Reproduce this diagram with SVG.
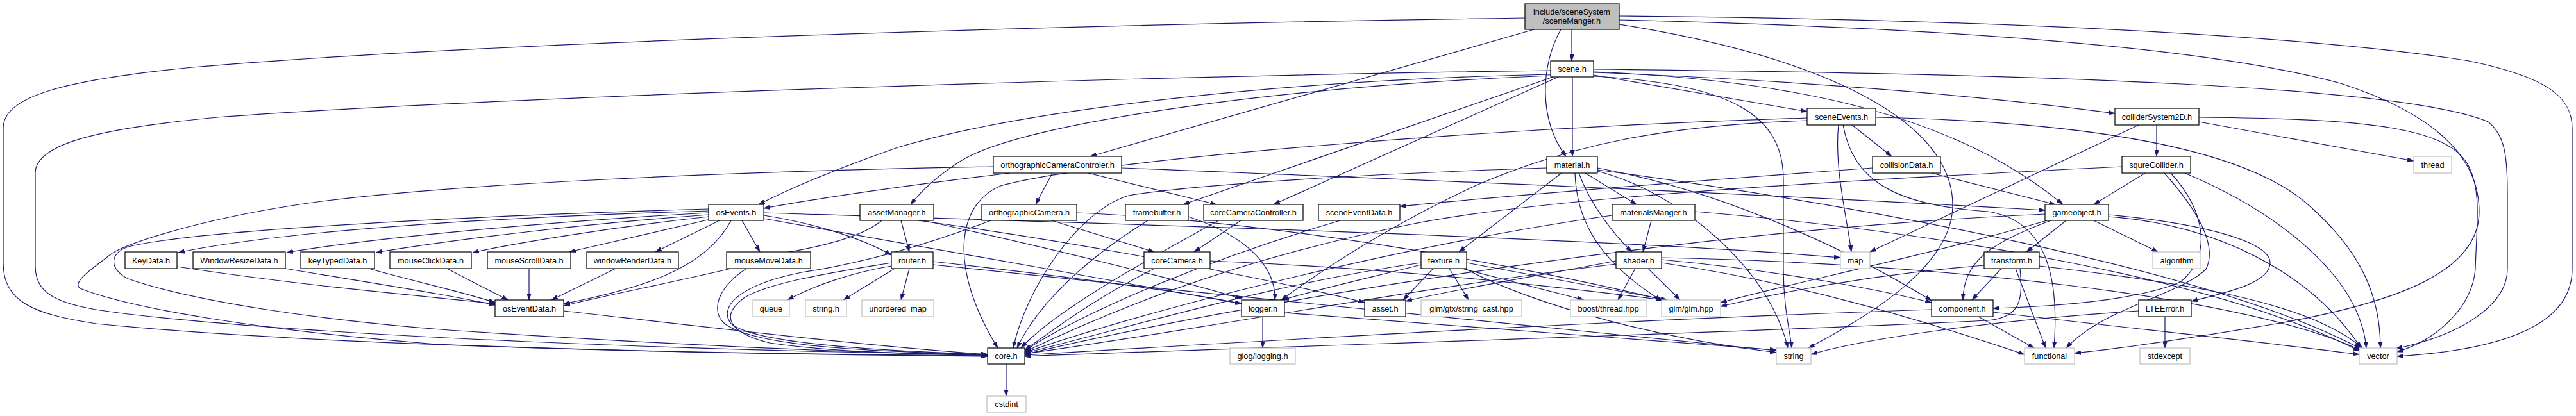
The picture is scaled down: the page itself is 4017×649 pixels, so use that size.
<svg xmlns="http://www.w3.org/2000/svg" width="4017" height="649" viewBox="0 0 4017 649">
<style>
.n rect{fill:#fff;stroke:#000;stroke-width:1.2}
.s rect{fill:#fff;stroke:#bfbfbf;stroke-width:1.2}
.r rect{fill:#bfbfbf;stroke:#000;stroke-width:1.2}
text{font-family:"Liberation Sans",Arial,sans-serif;font-size:12.7px;text-anchor:middle;fill:#000}
#edges path{fill:none;stroke:#191970;stroke-width:1.2;marker-end:url(#a)}
</style>
<defs>
<marker id="a" markerUnits="userSpaceOnUse" viewBox="0 0 10 7" markerWidth="10" markerHeight="7" refX="10" refY="3.5" orient="auto">
<path d="M0,0 L10,3.5 L0,7 z" fill="#191970" stroke="#191970" stroke-width="0.5"/>
</marker>
</defs>
<rect width="4017" height="649" fill="#fff"/>
<g id="edges">
<path d="M2451,46 L2451,95"/>
<path d="M2434,46 C2403,100 2398,185 2442,244"/>
<path d="M2392,46 L1700,244"/>
<path d="M2378,28 C1800,36 800,62 300,105 C100,125 5,150 5,200 L5,410 C5,470 50,490 150,505 C500,540 1100,552 1540,556"/>
<path d="M2525,38 C2850,90 3045,190 3045,320 C3045,420 2900,500 2820,543"/>
<path d="M2525,25 C3100,30 3600,55 3850,95 C3970,120 4011,150 4011,200 L4011,420 C4011,500 3920,545 3738,556"/>
<path d="M2525,31 C2900,40 3400,62 3650,130 C3820,185 3866,260 3866,330 C3866,420 3750,470 3550,505 C3400,530 3300,545 3235,551"/>
<path d="M2452,120 L2452,244"/>
<path d="M2418,110 C1800,118 800,150 350,182 C150,200 55,225 55,270 L55,415 C55,465 100,478 200,490 C500,525 1100,548 1540,553"/>
<path d="M2418,116 C2000,125 1600,170 1400,230 C1300,265 1230,295 1183,319"/>
<path d="M2418,118 C2000,135 1600,190 1500,250 C1460,275 1435,300 1420,319"/>
<path d="M2422,120 L1845,319"/>
<path d="M2430,120 L1986,319"/>
<path d="M2485,117 L2818,174"/>
<path d="M2485,113 C2800,125 3100,150 3298,177"/>
<path d="M2485,112 C2800,125 3050,180 3217,319"/>
<path d="M2485,119 C2700,130 2781,180 2781,280 L2781,420 C2781,480 2792,520 2794,543"/>
<path d="M2485,108 C3200,115 3750,135 3880,190 C3905,210 3910,240 3910,300 L3910,420 C3910,470 3850,520 3736,544"/>
<path d="M1549,260 C1100,268 650,290 460,320 C300,345 200,380 175,395 C150,415 110,440 125,450 C200,480 400,515 680,537 C1000,550 1300,553 1540,555"/>
<path d="M1575,270 C1450,285 1300,305 1191,325"/>
<path d="M1641,270 L1615,319"/>
<path d="M1697,270 L1897,319"/>
<path d="M1749,262 C2200,280 2700,300 3189,328"/>
<path d="M2412,262 C2100,272 1850,290 1760,305 C1680,330 1600,450 1580,543"/>
<path d="M2435,270 L2275,393"/>
<path d="M2456,270 C2458,330 2480,400 2591,469"/>
<path d="M2462,270 C2480,320 2520,370 2545,393"/>
<path d="M2472,270 L2552,319"/>
<path d="M2491,262 C2700,300 2900,400 3012,469"/>
<path d="M2491,267 C2620,300 2760,420 2788,543"/>
<path d="M2491,265 C2900,320 3450,420 3681,544"/>
<path d="M2867,195 C2860,260 2880,340 2887,393"/>
<path d="M2888,195 L2950,244"/>
<path d="M2874,195 C2890,280 2950,320 3100,330 C3200,345 3210,450 3203,543"/>
<path d="M2925,183 C3250,190 3500,230 3600,320 C3680,390 3712,460 3712,543"/>
<path d="M2818,184 C2300,200 1700,250 1560,290 C1490,320 1480,420 1556,543"/>
<path d="M2818,188 C2600,195 2450,225 2300,290 C2150,360 2050,430 1998,468"/>
<path d="M3012,270 L3205,319"/>
<path d="M2920,262 C2600,285 2300,310 2183,322"/>
<path d="M3363,195 L3363,244"/>
<path d="M3429,190 L3764,251"/>
<path d="M3429,183 C3700,185 3820,200 3850,260 C3870,300 3862,350 3860,420 C3855,480 3800,530 3738,549"/>
<path d="M3335,195 L2916,393"/>
<path d="M3345,270 L3265,319"/>
<path d="M3309,260 C2800,285 2400,310 2200,350 C1900,410 1700,500 1598,549"/>
<path d="M3375,270 C3420,320 3460,380 3440,420 C3400,460 3280,480 3222,543"/>
<path d="M3407,270 C3550,330 3680,430 3690,543"/>
<path d="M3385,270 C3440,330 3450,400 3400,440 C3330,470 3200,478 3108,481"/>
<path d="M3222,344 L3160,393"/>
<path d="M3198,344 C3100,380 3062,410 3061,468"/>
<path d="M3192,344 C3000,400 2800,440 2683,472"/>
<path d="M3265,344 L3365,393"/>
<path d="M3288,335 C3450,350 3540,380 3540,410 C3540,440 3480,455 3417,470"/>
<path d="M3288,338 C3450,350 3600,420 3682,543"/>
<path d="M3189,334 C2600,360 1900,480 1598,553"/>
<path d="M3121,419 L3075,468"/>
<path d="M3143,419 L3190,543"/>
<path d="M3094,414 C2900,430 2760,460 2683,478"/>
<path d="M3180,415 C3400,440 3600,470 3684,543"/>
<path d="M3150,419 C3155,470 3150,495 3100,500 C2700,520 2000,540 1598,556"/>
<path d="M3085,494 L3172,543"/>
<path d="M3012,483 C2500,500 2000,530 1598,554"/>
<path d="M3108,487 C3300,510 3500,530 3679,553"/>
<path d="M3376,494 L3376,543"/>
<path d="M3335,485 C3100,500 2900,530 2824,553"/>
<path d="M2550,419 L2523,468"/>
<path d="M2570,419 L2620,468"/>
<path d="M2520,407 C2400,430 2250,455 2192,470"/>
<path d="M2520,412 C2200,450 1900,510 1598,552"/>
<path d="M2591,405 C2750,420 2900,445 3012,472"/>
<path d="M2591,410 C2800,440 3000,500 3157,553"/>
<path d="M2591,402 C3000,410 3500,460 3680,546"/>
<path d="M2235,419 L2188,468"/>
<path d="M2260,419 L2290,468"/>
<path d="M2280,419 L2470,468"/>
<path d="M2287,410 L2600,468"/>
<path d="M2216,413 C2150,430 2060,450 2000,468"/>
<path d="M2216,410 C2000,440 1800,500 1598,551"/>
<path d="M2284,419 C2400,480 2600,530 2770,550"/>
<path d="M2575,344 L2562,393"/>
<path d="M2514,336 C2200,380 1800,480 1598,550"/>
<path d="M2643,330 C3000,360 3450,430 3680,548"/>
<path d="M2090,344 C1900,400 1700,480 1598,547"/>
<path d="M1935,344 L1862,393"/>
<path d="M1900,344 C1800,400 1650,480 1592,543"/>
<path d="M1800,419 C1700,470 1650,510 1598,546"/>
<path d="M1887,407 C2200,420 2450,450 2593,468"/>
<path d="M1790,344 C1700,400 1620,470 1586,543"/>
<path d="M1853,338 C1950,370 1990,420 1988,468"/>
<path d="M1640,344 L1800,393"/>
<path d="M1545,344 C1450,380 1350,410 1250,425 C1150,445 1120,480 1140,505 C1170,530 1300,545 1540,553"/>
<path d="M1679,332 C2000,345 2400,420 2594,468"/>
<path d="M1405,344 L1418,393"/>
<path d="M1432,344 C1700,380 2000,440 2128,472"/>
<path d="M1440,344 C1650,390 1850,440 1936,466"/>
<path d="M1375,344 C1345,370 1280,385 1220,395 C1130,420 1100,480 1130,505 C1170,535 1300,548 1540,553"/>
<path d="M1390,415 C1330,425 1270,445 1228,468"/>
<path d="M1395,419 L1315,468"/>
<path d="M1418,419 L1405,468"/>
<path d="M1455,408 C1650,430 1850,455 1936,474"/>
<path d="M1390,410 C1300,425 1200,440 1160,465 C1120,495 1140,520 1200,535 C1300,550 1450,553 1540,554"/>
<path d="M1455,413 C1900,460 2400,510 2770,547"/>
<path d="M1105,329 C800,338 450,358 278,394"/>
<path d="M1105,332 C900,343 600,368 447,394"/>
<path d="M1105,335 C900,350 700,375 586,394"/>
<path d="M1105,338 C950,355 800,380 737,394"/>
<path d="M1108,342 L888,393"/>
<path d="M1122,344 L1022,393"/>
<path d="M1157,344 L1185,393"/>
<path d="M1140,344 C1100,420 1000,450 879,474"/>
<path d="M1105,326 C700,338 300,360 200,385 C170,395 170,420 200,435 C300,470 500,500 700,515 C1000,535 1300,550 1540,554"/>
<path d="M1191,336 C1280,350 1350,375 1390,398"/>
<path d="M1191,332 C1600,345 2500,370 2870,402"/>
<path d="M1191,341 C1400,380 1700,430 1936,474"/>
<path d="M879,485 C1100,510 1350,540 1540,553"/>
<path d="M276,416 C500,450 700,465 772,474"/>
<path d="M445,419 C600,445 700,460 772,476"/>
<path d="M575,419 C650,440 720,455 772,472"/>
<path d="M697,419 L792,468"/>
<path d="M825,419 L825,468"/>
<path d="M960,419 L860,468"/>
<path d="M1140,419 C1050,440 950,460 879,477"/>
<path d="M1569,568 L1569,618"/>
<path d="M1969,494 L1969,543"/>
<path d="M2003,488 C2300,510 2600,535 2770,546"/>
</g>
<g id="node-root" class="r"><rect x="2378" y="6" width="147" height="40"/><text x="2451" y="22.5">include/sceneSystem</text><text x="2451" y="36.5">/sceneManger.h</text></g>
<g id="node-scene" class="n"><rect x="2418" y="95" width="67" height="25"/><text x="2451.5" y="112">scene.h</text></g>
<g id="node-sceneEvents" class="n"><rect x="2818" y="169" width="107" height="26"/><text x="2871.5" y="186.5">sceneEvents.h</text></g>
<g id="node-colliderSystem2D" class="n"><rect x="3298" y="169" width="131" height="26"/><text x="3363.5" y="186.5">colliderSystem2D.h</text></g>
<g id="node-ortho" class="n"><rect x="1549" y="244" width="200" height="26"/><text x="1649" y="261.5">orthographicCameraControler.h</text></g>
<g id="node-material" class="n"><rect x="2412" y="244" width="79" height="26"/><text x="2451.5" y="261.5">material.h</text></g>
<g id="node-collisionData" class="n"><rect x="2920" y="244" width="106" height="26"/><text x="2973" y="261.5">collisionData.h</text></g>
<g id="node-squreCollider" class="n"><rect x="3309" y="244" width="107" height="26"/><text x="3362.5" y="261.5">squreCollider.h</text></g>
<g id="node-thread" class="s"><rect x="3764" y="244" width="59" height="26"/><text x="3793.5" y="261.5">thread</text></g>
<g id="node-osEvents" class="n"><rect x="1105" y="319" width="86" height="25"/><text x="1148" y="336">osEvents.h</text></g>
<g id="node-assetManager" class="n"><rect x="1341" y="319" width="115" height="25"/><text x="1398.5" y="336">assetManager.h</text></g>
<g id="node-orthographicCamera" class="n"><rect x="1531" y="319" width="148" height="25"/><text x="1605" y="336">orthographicCamera.h</text></g>
<g id="node-framebuffer" class="n"><rect x="1755" y="319" width="98" height="25"/><text x="1804" y="336">framebuffer.h</text></g>
<g id="node-coreCameraController" class="n"><rect x="1877" y="319" width="155" height="25"/><text x="1954.5" y="336">coreCameraController.h</text></g>
<g id="node-sceneEventData" class="n"><rect x="2056" y="319" width="127" height="25"/><text x="2119.5" y="336">sceneEventData.h</text></g>
<g id="node-materialsManger" class="n"><rect x="2514" y="319" width="129" height="25"/><text x="2578.5" y="336">materialsManger.h</text></g>
<g id="node-gameobject" class="n"><rect x="3189" y="319" width="99" height="25"/><text x="3238.5" y="336">gameobject.h</text></g>
<g id="node-KeyData" class="n"><rect x="195" y="393" width="81" height="26"/><text x="235.5" y="410.5">KeyData.h</text></g>
<g id="node-WindowResizeData" class="n"><rect x="301" y="393" width="144" height="26"/><text x="373" y="410.5">WindowResizeData.h</text></g>
<g id="node-keyTypedData" class="n"><rect x="469" y="393" width="115" height="26"/><text x="526.5" y="410.5">keyTypedData.h</text></g>
<g id="node-mouseClickData" class="n"><rect x="608" y="393" width="127" height="26"/><text x="671.5" y="410.5">mouseClickData.h</text></g>
<g id="node-mouseScrollData" class="n"><rect x="760" y="393" width="130" height="26"/><text x="825" y="410.5">mouseScrollData.h</text></g>
<g id="node-windowRenderData" class="n"><rect x="915" y="393" width="143" height="26"/><text x="986.5" y="410.5">windowRenderData.h</text></g>
<g id="node-mouseMoveData" class="n"><rect x="1133" y="393" width="131" height="26"/><text x="1198.5" y="410.5">mouseMoveData.h</text></g>
<g id="node-router" class="n"><rect x="1390" y="393" width="65" height="26"/><text x="1422.5" y="410.5">router.h</text></g>
<g id="node-coreCamera" class="n"><rect x="1784" y="393" width="103" height="26"/><text x="1835.5" y="410.5">coreCamera.h</text></g>
<g id="node-texture" class="n"><rect x="2216" y="393" width="71" height="26"/><text x="2251.5" y="410.5">texture.h</text></g>
<g id="node-shader" class="n"><rect x="2520" y="393" width="71" height="26"/><text x="2555.5" y="410.5">shader.h</text></g>
<g id="node-map" class="s"><rect x="2870" y="393" width="46" height="26"/><text x="2893" y="410.5">map</text></g>
<g id="node-transform" class="n"><rect x="3094" y="393" width="86" height="26"/><text x="3137" y="410.5">transform.h</text></g>
<g id="node-algorithm" class="s"><rect x="3357" y="393" width="75" height="26"/><text x="3394.5" y="410.5">algorithm</text></g>
<g id="node-osEventData" class="n"><rect x="772" y="468" width="107" height="26"/><text x="825.5" y="485.5">osEventData.h</text></g>
<g id="node-queue" class="s"><rect x="1174" y="468" width="57" height="26"/><text x="1202.5" y="485.5">queue</text></g>
<g id="node-string_h" class="s"><rect x="1256" y="468" width="64" height="26"/><text x="1288" y="485.5">string.h</text></g>
<g id="node-unordered_map" class="s"><rect x="1344" y="468" width="112" height="26"/><text x="1400" y="485.5">unordered_map</text></g>
<g id="node-logger" class="n"><rect x="1936" y="468" width="67" height="26"/><text x="1969.5" y="485.5">logger.h</text></g>
<g id="node-asset" class="n"><rect x="2128" y="468" width="64" height="26"/><text x="2160" y="485.5">asset.h</text></g>
<g id="node-string_cast" class="s"><rect x="2216" y="468" width="157" height="26"/><text x="2294.5" y="485.5">glm/gtx/string_cast.hpp</text></g>
<g id="node-boost_thread" class="s"><rect x="2449" y="468" width="118" height="26"/><text x="2508" y="485.5">boost/thread.hpp</text></g>
<g id="node-glm" class="s"><rect x="2591" y="468" width="92" height="26"/><text x="2637" y="485.5">glm/glm.hpp</text></g>
<g id="node-component" class="n"><rect x="3012" y="468" width="96" height="26"/><text x="3060" y="485.5">component.h</text></g>
<g id="node-LTEError" class="n"><rect x="3335" y="468" width="82" height="26"/><text x="3376" y="485.5">LTEError.h</text></g>
<g id="node-core" class="n"><rect x="1540" y="543" width="58" height="25"/><text x="1569" y="560">core.h</text></g>
<g id="node-glog" class="s"><rect x="1918" y="543" width="102" height="25"/><text x="1969" y="560">glog/logging.h</text></g>
<g id="node-string" class="s"><rect x="2770" y="543" width="54" height="25"/><text x="2797" y="560">string</text></g>
<g id="node-functional" class="s"><rect x="3157" y="543" width="78" height="25"/><text x="3196" y="560">functional</text></g>
<g id="node-stdexcept" class="s"><rect x="3337" y="543" width="78" height="25"/><text x="3376" y="560">stdexcept</text></g>
<g id="node-vector" class="s"><rect x="3679" y="543" width="59" height="25"/><text x="3708.5" y="560">vector</text></g>
<g id="node-cstdint" class="s"><rect x="1539" y="618" width="61" height="25"/><text x="1569.5" y="635">cstdint</text></g>
</svg>
